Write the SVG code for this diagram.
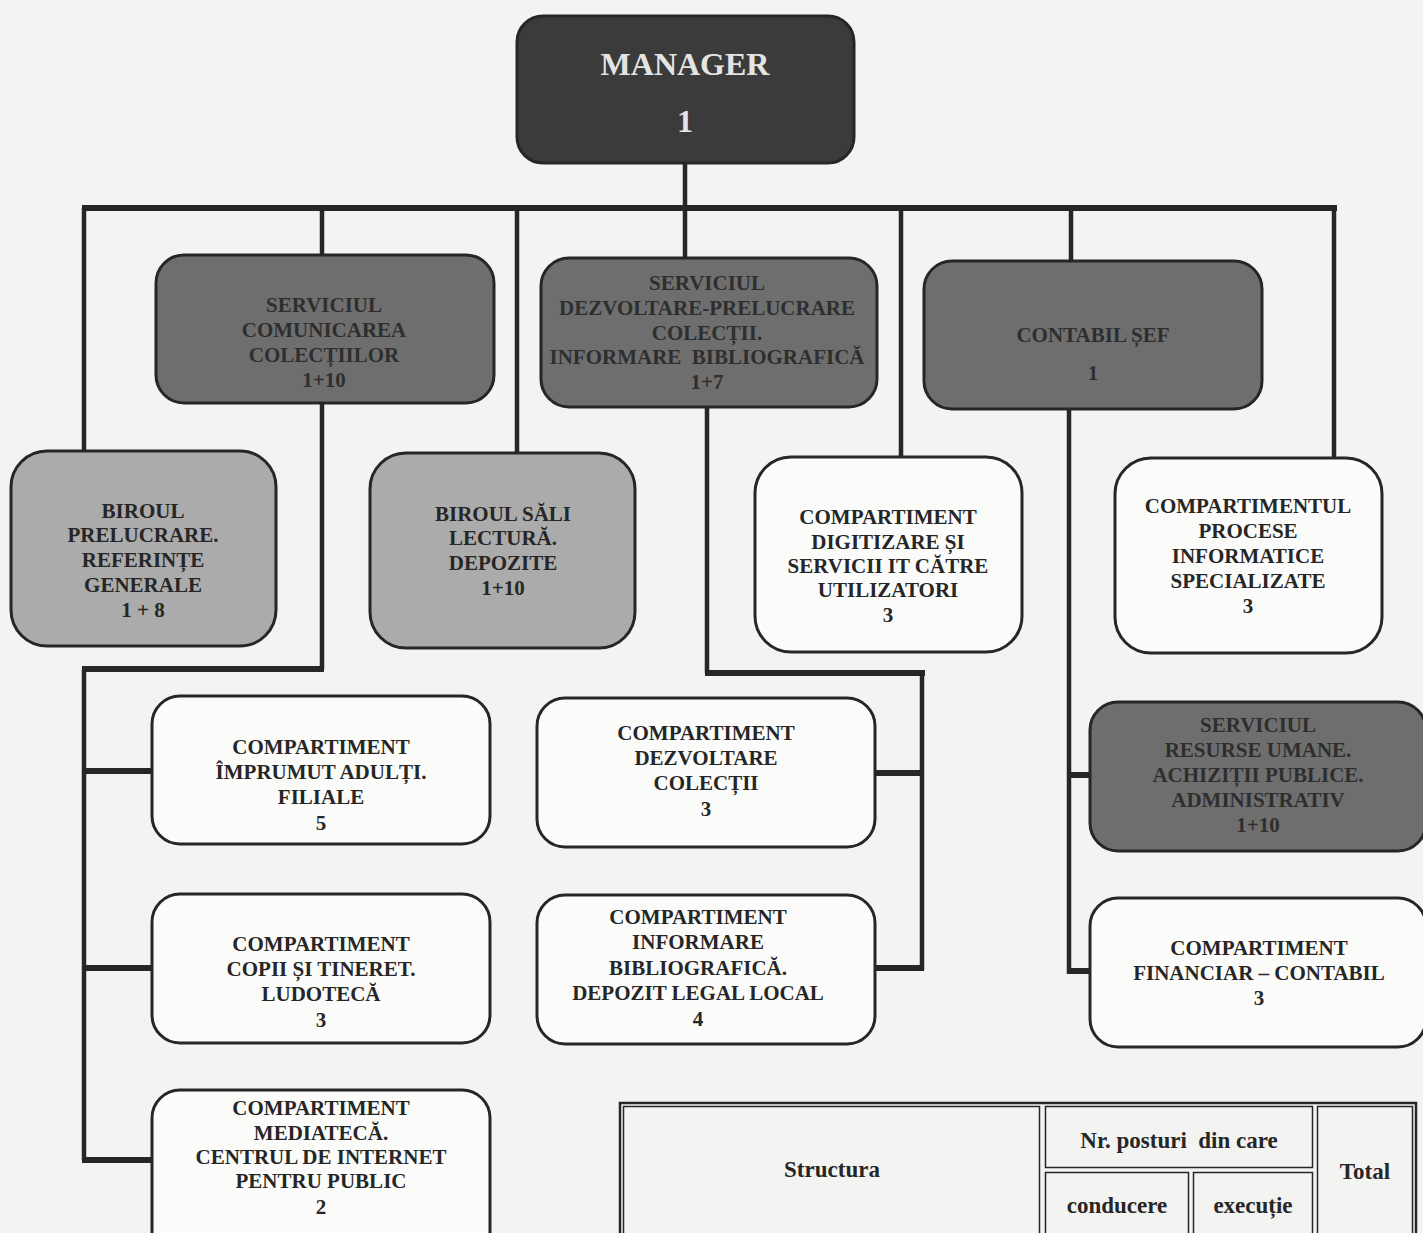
<svg xmlns="http://www.w3.org/2000/svg" width="1423" height="1233" viewBox="0 0 1423 1233">
<style>
.bg{fill:#f3f3f1}
.box{stroke:#262626;stroke-width:3}
.mgr{fill:#3b3b3b}
.dark{fill:#6e6e6e}
.light{fill:#ababab}
.white{fill:#fbfbfa}
.t{font-family:"Liberation Serif","Times New Roman",serif;font-weight:bold;font-size:21px;text-anchor:middle;fill:#262626}
.tm{font-size:32px;fill:#e4e4e4;font-weight:bold}
.td{fill:#2e2e2e}
.v{stroke:#262626;stroke-width:4.5;fill:none}
.h{stroke:#262626;stroke-width:6;fill:none}
.tab{fill:none;stroke:#262626}
.tt{font-family:"Liberation Serif","Times New Roman",serif;font-weight:bold;font-size:23px;text-anchor:middle;fill:#262626}
</style>
<rect class="bg" x="0" y="0" width="1423" height="1233"/>

<g id="connectors">
  <line class="v" x1="685" y1="163" x2="685" y2="208"/>
  <line class="h" x1="82" y1="208" x2="1337" y2="208"/>
  <line class="v" x1="84" y1="208" x2="84" y2="451"/>
  <line class="v" x1="322" y1="208" x2="322" y2="255"/>
  <line class="v" x1="517" y1="208" x2="517" y2="453"/>
  <line class="v" x1="685" y1="208" x2="685" y2="258"/>
  <line class="v" x1="901" y1="208" x2="901" y2="457"/>
  <line class="v" x1="1071" y1="208" x2="1071" y2="261"/>
  <line class="v" x1="1334" y1="208" x2="1334" y2="458"/>
  <line class="v" x1="322" y1="403" x2="322" y2="669"/>
  <line class="h" x1="324" y1="669" x2="82" y2="669"/>
  <line class="v" x1="84" y1="669" x2="84" y2="1160"/>
  <line class="h" x1="82" y1="771" x2="152" y2="771"/>
  <line class="h" x1="82" y1="968" x2="152" y2="968"/>
  <line class="h" x1="82" y1="1160" x2="152" y2="1160"/>
  <line class="v" x1="707" y1="407" x2="707" y2="673"/>
  <line class="h" x1="705" y1="673" x2="925" y2="673"/>
  <line class="v" x1="922" y1="673" x2="922" y2="970"/>
  <line class="h" x1="875" y1="773" x2="924" y2="773"/>
  <line class="h" x1="875" y1="968" x2="924" y2="968"/>
  <line class="v" x1="1069" y1="409" x2="1069" y2="974"/>
  <line class="h" x1="1067" y1="775" x2="1090" y2="775"/>
  <line class="h" x1="1067" y1="971" x2="1090" y2="971"/>
</g>

<g id="manager">
  <rect class="box mgr" x="517" y="16" width="337" height="147" rx="26"/>
  <text class="t tm" x="685" y="75">MANAGER</text>
  <text class="t tm" x="685" y="132">1</text>
</g>

<g id="serviciul-comunicarea">
  <rect class="box dark" x="156" y="255" width="338" height="148" rx="28"/>
  <text class="t td" x="324" y="312">SERVICIUL</text>
  <text class="t td" x="324" y="337">COMUNICAREA</text>
  <text class="t td" x="324" y="362">COLECȚIILOR</text>
  <text class="t td" x="324" y="387">1+10</text>
</g>

<g id="serviciul-dezvoltare">
  <rect class="box dark" x="541" y="258" width="336" height="149" rx="28"/>
  <text class="t td" x="707" y="290">SERVICIUL</text>
  <text class="t td" x="707" y="315">DEZVOLTARE-PRELUCRARE</text>
  <text class="t td" x="707" y="340">COLECȚII.</text>
  <text class="t td" x="707" y="364" xml:space="preserve">INFORMARE  BIBLIOGRAFICĂ</text>
  <text class="t td" x="707" y="389">1+7</text>
</g>

<g id="contabil-sef">
  <rect class="box dark" x="924" y="261" width="338" height="148" rx="28"/>
  <text class="t td" x="1093" y="342">CONTABIL ȘEF</text>
  <text class="t td" x="1093" y="380">1</text>
</g>

<g id="biroul-prelucrare">
  <rect class="box light" x="11" y="451" width="265" height="195" rx="36"/>
  <text class="t" x="143" y="518">BIROUL</text>
  <text class="t" x="143" y="542">PRELUCRARE.</text>
  <text class="t" x="143" y="567">REFERINȚE</text>
  <text class="t" x="143" y="592">GENERALE</text>
  <text class="t" x="143" y="617">1 + 8</text>
</g>

<g id="biroul-sali">
  <rect class="box light" x="370" y="453" width="265" height="195" rx="36"/>
  <text class="t" x="503" y="521">BIROUL SĂLI</text>
  <text class="t" x="503" y="545">LECTURĂ.</text>
  <text class="t" x="503" y="570">DEPOZITE</text>
  <text class="t" x="503" y="595">1+10</text>
</g>

<g id="compartiment-digitizare">
  <rect class="box white" x="755" y="457" width="267" height="195" rx="36"/>
  <text class="t" x="888" y="524">COMPARTIMENT</text>
  <text class="t" x="888" y="549">DIGITIZARE ȘI</text>
  <text class="t" x="888" y="573">SERVICII IT CĂTRE</text>
  <text class="t" x="888" y="597">UTILIZATORI</text>
  <text class="t" x="888" y="622">3</text>
</g>

<g id="compartimentul-procese">
  <rect class="box white" x="1115" y="458" width="267" height="195" rx="36"/>
  <text class="t" x="1248" y="513">COMPARTIMENTUL</text>
  <text class="t" x="1248" y="538">PROCESE</text>
  <text class="t" x="1248" y="563">INFORMATICE</text>
  <text class="t" x="1248" y="588">SPECIALIZATE</text>
  <text class="t" x="1248" y="613">3</text>
</g>

<g id="compartiment-imprumut">
  <rect class="box white" x="152" y="696" width="338" height="148" rx="28"/>
  <text class="t" x="321" y="754">COMPARTIMENT</text>
  <text class="t" x="321" y="779">ÎMPRUMUT ADULȚI.</text>
  <text class="t" x="321" y="804">FILIALE</text>
  <text class="t" x="321" y="830">5</text>
</g>

<g id="compartiment-dezvoltare-colectii">
  <rect class="box white" x="537" y="698" width="338" height="149" rx="28"/>
  <text class="t" x="706" y="740">COMPARTIMENT</text>
  <text class="t" x="706" y="765">DEZVOLTARE</text>
  <text class="t" x="706" y="790">COLECȚII</text>
  <text class="t" x="706" y="816">3</text>
</g>

<g id="serviciul-resurse-umane">
  <rect class="box dark" x="1090" y="702" width="336" height="149" rx="28"/>
  <text class="t td" x="1258" y="732">SERVICIUL</text>
  <text class="t td" x="1258" y="757">RESURSE UMANE.</text>
  <text class="t td" x="1258" y="782">ACHIZIȚII PUBLICE.</text>
  <text class="t td" x="1258" y="807">ADMINISTRATIV</text>
  <text class="t td" x="1258" y="832">1+10</text>
</g>

<g id="compartiment-copii">
  <rect class="box white" x="152" y="894" width="338" height="149" rx="28"/>
  <text class="t" x="321" y="951">COMPARTIMENT</text>
  <text class="t" x="321" y="976">COPII ȘI TINERET.</text>
  <text class="t" x="321" y="1001">LUDOTECĂ</text>
  <text class="t" x="321" y="1027">3</text>
</g>

<g id="compartiment-informare">
  <rect class="box white" x="537" y="895" width="338" height="149" rx="28"/>
  <text class="t" x="698" y="924">COMPARTIMENT</text>
  <text class="t" x="698" y="949">INFORMARE</text>
  <text class="t" x="698" y="975">BIBLIOGRAFICĂ.</text>
  <text class="t" x="698" y="1000">DEPOZIT LEGAL LOCAL</text>
  <text class="t" x="698" y="1026">4</text>
</g>

<g id="compartiment-financiar">
  <rect class="box white" x="1090" y="898" width="336" height="149" rx="28"/>
  <text class="t" x="1259" y="955">COMPARTIMENT</text>
  <text class="t" x="1259" y="980">FINANCIAR – CONTABIL</text>
  <text class="t" x="1259" y="1005">3</text>
</g>

<g id="compartiment-mediateca">
  <rect class="box white" x="152" y="1090" width="338" height="170" rx="28"/>
  <text class="t" x="321" y="1115">COMPARTIMENT</text>
  <text class="t" x="321" y="1140">MEDIATECĂ.</text>
  <text class="t" x="321" y="1164">CENTRUL DE INTERNET</text>
  <text class="t" x="321" y="1188">PENTRU PUBLIC</text>
  <text class="t" x="321" y="1214">2</text>
</g>

<g id="tabel">
  <rect class="tab" x="620" y="1103" width="796" height="145" stroke-width="2.5" fill="#f6f6f4"/>
  <rect class="tab" x="623.5" y="1106.5" width="416" height="140" stroke-width="1.5"/>
  <rect class="tab" x="1045.5" y="1106.5" width="267" height="61" stroke-width="1.5"/>
  <rect class="tab" x="1045.5" y="1172.5" width="143" height="80" stroke-width="1.5"/>
  <rect class="tab" x="1193.5" y="1172.5" width="119" height="80" stroke-width="1.5"/>
  <rect class="tab" x="1317.5" y="1106.5" width="95" height="140" stroke-width="1.5"/>
  <text class="tt" x="832" y="1177">Structura</text>
  <text class="tt" x="1179" y="1148" xml:space="preserve">Nr. posturi  din care</text>
  <text class="tt" x="1365" y="1179">Total</text>
  <text class="tt" x="1117" y="1213">conducere</text>
  <text class="tt" x="1253" y="1213">execuție</text>
</g>
</svg>
